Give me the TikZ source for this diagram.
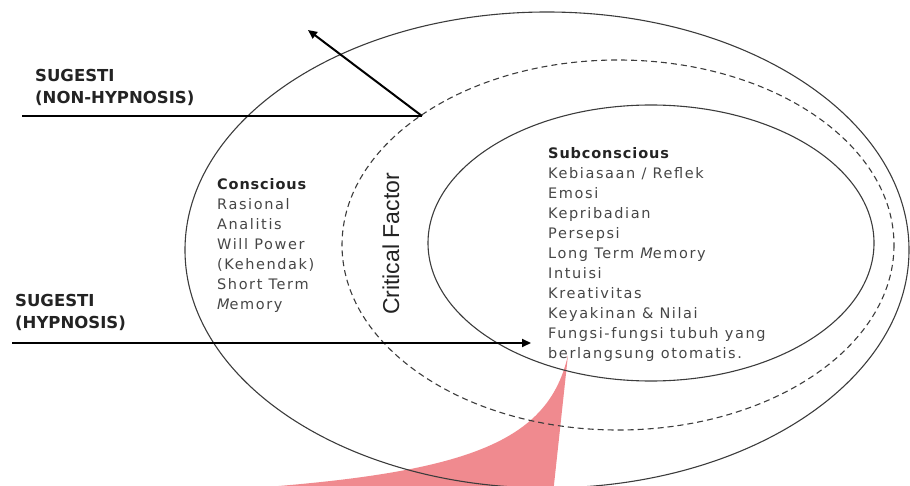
\documentclass[tikz,border=0pt]{standalone}
\usepackage{fontspec}
\usetikzlibrary{arrows.meta}
\newfontfamily\dvsans[LetterSpace=11]{DejaVu Sans}
\newfontfamily\dvhead[LetterSpace=6]{DejaVu Sans}
\newfontfamily\dvlabel{DejaVu Sans}
\newfontfamily\arialish{Liberation Sans}
\definecolor{pinkfill}{RGB}{240,138,143}
\definecolor{ringcol}{RGB}{60,60,60}
\definecolor{txtcol}{RGB}{70,70,70}
\definecolor{headcol}{RGB}{35,35,35}
\tikzset{
  ring/.style={draw=ringcol, line width=1.1pt},
  dashring/.style={draw=ringcol, line width=1.1pt, dash pattern=on 6pt off 4pt},
  flow/.style={draw=black, line width=2pt},
  flowarrow/.style={flow, -{Triangle[length=9pt,width=8pt]}},
  listtext/.style={inner sep=0pt, anchor=north west, align=left, text=txtcol,
    font=\dvsans\fontsize{14.5}{20}\selectfont},
  sugesti/.style={inner sep=0pt, anchor=north west, align=left, text=headcol,
    font=\dvlabel\bfseries\fontsize{16.5}{22.5}\selectfont},
}
\begin{document}
\begin{tikzpicture}[x=1pt,y=-1pt]
  \useasboundingbox (0,0) rectangle (910,486);
  % pink wedge
  \begin{scope}
    \clip (0,0) rectangle (910,486);
    \fill[pinkfill] (568,355) .. controls (546,452) and (450,480) .. (150,494)
      -- (553,494) -- cycle;
  \end{scope}
  % ellipses
  \draw[ring] (547,250) ellipse [x radius=362, y radius=238];
  \draw[dashring] (618,245) ellipse [x radius=276, y radius=185];
  \draw[ring] (651,243) ellipse [x radius=223, y radius=138];

  % labels
  \node[sugesti] (nhlabel) at (35,69) {SUGESTI\\(NON-HYPNOSIS)};
  \node[sugesti] (hlabel) at (15,294) {SUGESTI\\(HYPNOSIS)};

  \node[listtext] (conscious) at (217,178) {{\dvhead\bfseries\color{headcol}Conscious}\\
    Rasional\\Analitis\\Will Power\\(Kehendak)\\Short Term\\{\itshape M}emory};

  \node[listtext] (subconscious) at (548,147) {{\dvhead\bfseries\color{headcol}Subconscious}\\
    Kebiasaan / Reflek\\Emosi\\Kepribadian\\Persepsi\\Long Term {\itshape M}emory\\
    Intuisi\\Kreativitas\\Keyakinan \& Nilai\\Fungsi-fungsi tubuh yang\\berlangsung otomatis.};

  \node[rotate=90, inner sep=0pt, text=headcol, font=\arialish\fontsize{23}{26}\selectfont]
    (critical) at (391,244) {Critical Factor};

  % connectors
  \coordinate (nhstart) at (22,116);
  \coordinate (nhbend) at (422,116);
  \coordinate (nhtip) at (308,30);
  \coordinate (hstart) at (12,343);
  \coordinate (htip) at (531,343);
  \draw[flow] (nhstart) -- (nhbend);
  \draw[flowarrow] (nhbend) -- (nhtip);
  \draw[flowarrow] (hstart) -- (htip);
\end{tikzpicture}
\end{document}
